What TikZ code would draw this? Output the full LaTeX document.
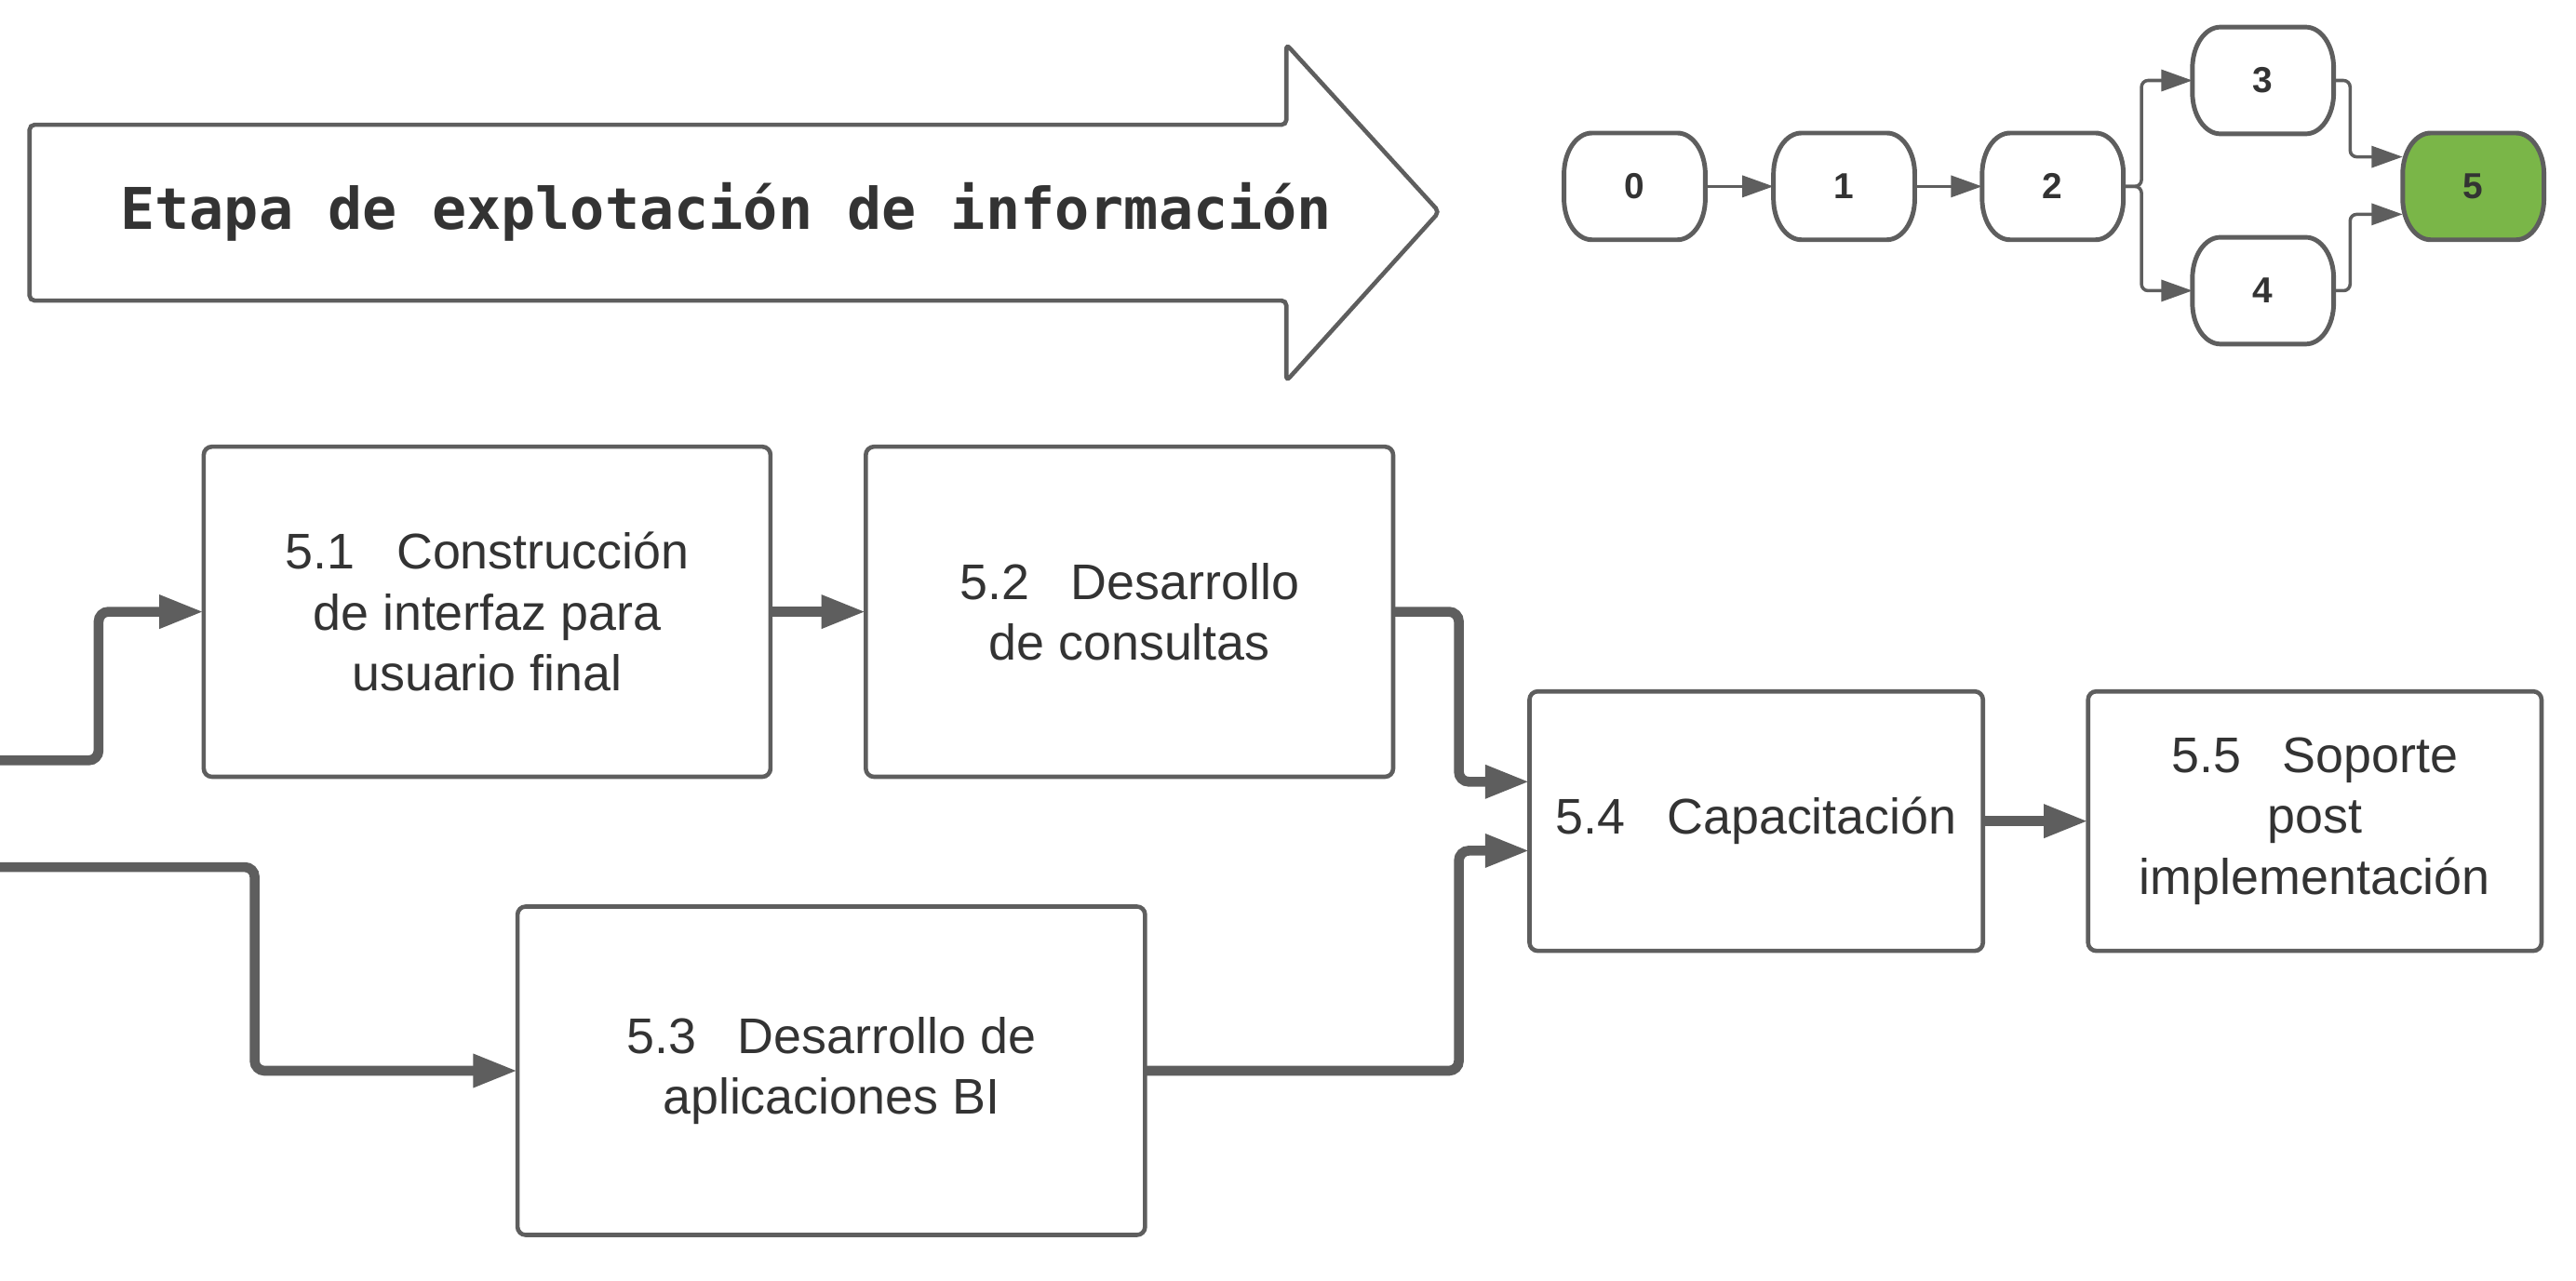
\documentclass[tikz,border=0pt]{standalone}
\usepackage{fontspec}
\setmainfont{Liberation Sans}
\newfontfamily\monofont{DejaVu Sans Mono}
\usetikzlibrary{arrows.meta,calc,backgrounds}
\definecolor{lc}{HTML}{5E5E5E}
\definecolor{tc}{HTML}{333333}
\definecolor{gr}{HTML}{7AB648}
\begin{document}
\begin{tikzpicture}[x=1pt,y=-1pt,
 box/.style={draw=lc, line width=2.6pt, rounded corners=5pt, fill=white, inner sep=0pt, outer sep=0pt, align=center, text=tc, font=\fontsize{30.5}{37}\selectfont},
 pill/.style={inner sep=0pt, outer sep=0pt, minimum width=86pt, minimum height=65pt, text=tc, font=\bfseries\fontsize{22}{24}\selectfont},
 pillline/.style={draw=lc, line width=2.8pt},
 thinarr/.style={draw=lc, line width=2pt, rounded corners=4pt, -{Triangle[length=19pt,width=13pt]}},
 thickarr/.style={draw=lc, line width=6pt, rounded corners=6pt, -{Triangle[length=27pt,width=19pt]}},
]
\useasboundingbox (0,0) rectangle (1568,779.5);
% big arrow
\draw[draw=lc, line width=2.6pt, rounded corners=3pt, fill=white]
  (18,76) -- (783,76) -- (783,27) -- (876,129) -- (783,232) -- (783,183) -- (18,183) -- cycle;
\node[text=tc, font=\monofont\bfseries\fontsize{35}{40}\selectfont] (title) at (442,129) {Etapa de explotación de información};

% small graph
\node[pill] (n0) at (995,113.5) {0};
\node[pill] (n1) at (1122.5,113.5) {1};
\node[pill] (n2) at (1249.5,113.5) {2};
\node[pill] (n3) at (1377.5,49) {3};
\node[pill] (n4) at (1377.5,177) {4};
\node[pill] (n5) at (1505.5,113.5) {5};
\begin{scope}[on background layer]
\foreach \n/\f in {n0/white,n1/white,n2/white,n3/white,n4/white,n5/gr}{
  \draw[pillline, fill=\f] ([xshift=17pt]\n.north west) -- ([xshift=-17pt]\n.north east)
    .. controls ([xshift=-7.6pt]\n.north east) and ([yshift=-11.2pt]\n.north east) .. ([yshift=-25pt]\n.north east)
    -- ([yshift=25pt]\n.south east)
    .. controls ([yshift=11.2pt]\n.south east) and ([xshift=-7.6pt]\n.south east) .. ([xshift=-17pt]\n.south east)
    -- ([xshift=17pt]\n.south west)
    .. controls ([xshift=7.6pt]\n.south west) and ([yshift=11.2pt]\n.south west) .. ([yshift=25pt]\n.south west)
    -- ([yshift=-25pt]\n.north west)
    .. controls ([yshift=-11.2pt]\n.north west) and ([xshift=7.6pt]\n.north west) .. cycle;
}
\end{scope}
\draw[thinarr] (n0) -- (n1);
\draw[thinarr] (n1) -- (n2);
\draw[thinarr] (n2.east) -- ++(11,0) |- (n3.west);
\draw[thinarr] (n2.east) -- ++(11,0) |- (n4.west);
\draw[thinarr] (n3.east) -- ++(10,0) |- ($(n5.west)+(0,-18)$);
\draw[thinarr] (n4.east) -- ++(10,0) |- ($(n5.west)+(0,17)$);

% main boxes
\node[box, minimum width=345pt, minimum height=201pt] (b51) at (296.5,372.5) {5.1\ \ \ Construcción\\de interfaz para\\usuario final};
\node[box, minimum width=321pt, minimum height=201pt] (b52) at (687.5,372.5) {5.2\ \ \ Desarrollo\\de consultas};
\node[box, minimum width=382pt, minimum height=200pt] (b53) at (506,652) {5.3\ \ \ Desarrollo de\\aplicaciones BI};
\node[box, minimum width=276pt, minimum height=158pt] (b54) at (1069,500) {5.4\ \ \ Capacitación};
\node[box, minimum width=276pt, minimum height=158pt] (b55) at (1409,500) {5.5\ \ \ Soporte\\post\\implementación};

\coordinate (inA) at (0,463);
\coordinate (inB) at (0,528);
\draw[thickarr] (inA) -- ++(60,0) |- (b51.west);
\draw[thickarr] (b51) -- (b52);
\draw[thickarr] (b52.east) -- ++(40,0) |- ($(b54.west)+(0,-24)$);
\draw[thickarr] (inB) -- ++(155,0) |- (b53.west);
\draw[thickarr] (b53.east) -- ++(191,0) |- ($(b54.west)+(0,18)$);
\draw[thickarr] (b54) -- (b55);
\end{tikzpicture}
\end{document}
